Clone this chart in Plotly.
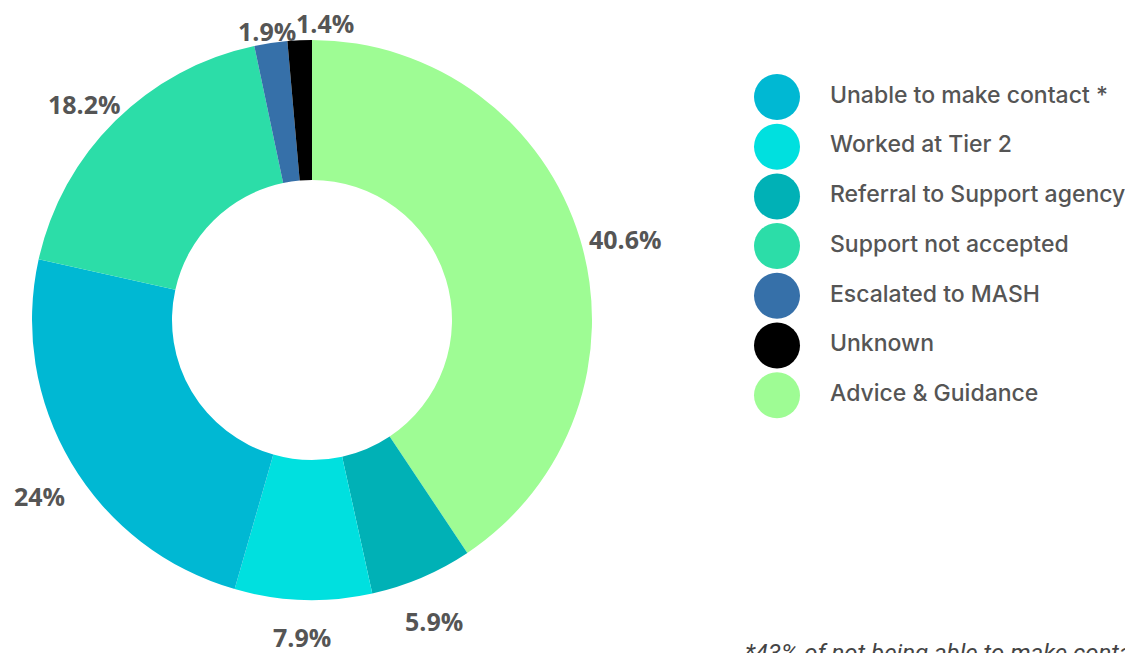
import math
import plotly.graph_objects as go

# Slices in drawing order (clockwise from 12 o'clock)
slice_labels = ["Advice & Guidance", "Referral to Support agency", "Worked at Tier 2",
                "Unable to make contact *", "Support not accepted", "Escalated to MASH", "Unknown"]
slice_values = [40.6, 5.9, 7.9, 24, 18.2, 1.9, 1.4]
slice_text = ["40.6%", "5.9%", "7.9%", "24%", "18.2%", "1.9%", "1.4%"]
slice_colors = ["#9EFC94", "#00B1B6", "#00E0DF", "#00B8D3", "#2CDDA8", "#3670A9", "#000000"]

# Legend order as shown on the right
legend_labels = ["Unable to make contact *", "Worked at Tier 2", "Referral to Support agency",
                 "Support not accepted", "Escalated to MASH", "Unknown", "Advice & Guidance"]

footnote = "*43% of not being able to make contact were due to no response"

color_of = dict(zip(slice_labels, slice_colors))
legend_colors = [color_of[l] for l in legend_labels]
legend_idx = list(range(len(legend_labels)))

W, H = 1133, 653
# the page adds an 8px body margin, so the layout is shifted by that
CX, CY, R = 304, 312, 280
LABEL_SIZE = 25

fig = go.Figure()

fig.add_trace(go.Pie(
    labels=slice_labels,
    values=slice_values,
    textinfo="none",
    marker=dict(colors=slice_colors, line=dict(width=0)),
    hole=0.5,
    sort=False,
    direction="clockwise",
    rotation=0,
    showlegend=False,
    domain=dict(x=[(CX - R) / W, (CX + R) / W], y=[(H - CY - R) / H, (H - CY + R) / H]),
))

# outside percentage labels, placed from each slice's mid angle
char_w = {".": 0.27, "%": 0.82}
total = sum(slice_values)
boxes = []
cum = 0
for v, t in zip(slice_values, slice_text):
    ang = 2 * math.pi * (cum + v / 2) / total
    cum += v
    sx, sy = math.sin(ang), -math.cos(ang)
    w = sum(char_w.get(c, 0.572) for c in t) * LABEL_SIZE
    h = 24
    d = R + 10 + abs(sx) * w / 2 + abs(sy) * h / 2
    x, y = CX + sx * d, CY + sy * d + 14
    # nudge overlapping labels (the thin slices at the top)
    for (bx, by, bw) in boxes:
        if abs(y - by) < h and abs(x - bx) < (w + bw) / 2:
            x = bx + (w + bw) / 2 + 2
            y -= 8
    boxes.append((x, y, w))
    fig.add_annotation(
        text="<b>" + t + "</b>", xref="paper", yref="paper",
        x=x / W, y=1 - y / H, xanchor="center", yanchor="middle", showarrow=False,
        font=dict(family="Open Sans", size=LABEL_SIZE, color="#555555"),
    )

# custom legend: big circles + labels
fig.add_trace(go.Scatter(
    x=[0] * len(legend_idx), y=legend_idx, mode="markers",
    marker=dict(size=46, color=legend_colors),
    xaxis="x", yaxis="y", showlegend=False, hoverinfo="skip",
))
fig.add_trace(go.Scatter(
    x=[1.06] * len(legend_idx), y=legend_idx, mode="text",
    text=legend_labels, textposition="middle right",
    textfont=dict(family="Inter", size=23, color="#555555", weight=500),
    xaxis="x", yaxis="y", showlegend=False, hoverinfo="skip",
))

fig.add_annotation(
    text="<i>" + footnote + "</i>", xref="paper", yref="paper",
    x=735 / W, y=(H - 629) / H, xanchor="left", yanchor="top",
    showarrow=False, font=dict(family="Roboto", size=24, color="#444444"),
)

fig.update_layout(
    width=W, height=H,
    margin=dict(l=0, r=0, t=0, b=0, autoexpand=False),
    paper_bgcolor="white", plot_bgcolor="rgba(0,0,0,0)",
    xaxis=dict(domain=[0, 1], range=[-769 / 50, (W - 769) / 50], visible=False, fixedrange=True),
    yaxis=dict(domain=[0, 1], range=[(H - 89) / 49.7, -89 / 49.7], visible=False, fixedrange=True),
)

fig.write_html("out.html")
